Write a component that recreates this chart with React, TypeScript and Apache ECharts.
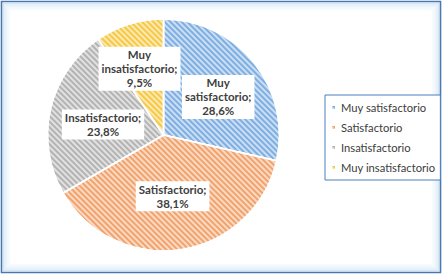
import React, { useEffect, useRef } from "react";
import * as echarts from "echarts";

const categories = ["Muy satisfactorio", "Satisfactorio", "Insatisfactorio", "Muy insatisfactorio"];
const values = [6, 8, 5, 2];
const percentLabels = ["28,6%", "38,1%", "23,8%", "9,5%"];
const colors = ["#7eaee2", "#f2a36c", "#b3b3b3", "#f6c844"];
const labelOffsets = [[7, 0], [0, 1], [-1, 3], [-6, -8]];

export default function App() {
  const ref = useRef<HTMLDivElement>(null);
  useEffect(() => {
    document.body.style.margin = "0";
    const chart = echarts.init(ref.current!, null, { renderer: "svg" });
    const frames: any[] = [];
    const glow = ["#d3e7f6", "#deeef9", "#e9f4fb", "#f2f8fd", "#f8fbfe"];
    glow.forEach((c, i) => {
      const inset = 3.5 + i * 1.5;
      frames.push({
        type: "rect",
        shape: { x: inset, y: inset, width: 442 - 2 * inset, height: 274 - 2 * inset },
        style: { fill: "none", stroke: c, lineWidth: 1.5 },
        silent: true,
        z: -1,
      });
    });
    frames.push({
      type: "rect",
      shape: { x: 1.5, y: 1.5, width: 439, height: 271 },
      style: { fill: "none", stroke: "#4a77ad", lineWidth: 1.6 },
      silent: true,
    });
    chart.setOption({
      animation: false,
      backgroundColor: "#ffffff",
      graphic: frames,
      legend: {
        orient: "vertical",
        left: 325,
        top: 95,
        data: categories,
        icon: "rect",
        itemWidth: 5,
        itemHeight: 5,
        itemGap: 7,
        padding: [6, 5, 6, 5],
        borderColor: "#4a7fbd",
        borderWidth: 1,
        backgroundColor: "#ffffff",
        textStyle: { fontFamily: "Lato", fontSize: 11.2, color: "#3c3c3c", lineHeight: 13 },
      },
      series: [
        {
          type: "pie",
          center: [163.5, 135],
          radius: 116,
          startAngle: 90,
          clockwise: true,
          itemStyle: { borderColor: "#ffffff", borderWidth: 1.5 },
          label: {
            show: true,
            position: "inside",
            fontFamily: "Lato",
            fontWeight: "bold",
            fontSize: 11.5,
            lineHeight: 14,
            color: "#404040",
            backgroundColor: "#ffffff",
            padding: [1, 3],
            align: "center",
          },
          labelLine: { show: false },
          emphasis: { disabled: true },
          data: categories.map((name, i) => {
            const words = name.split(" ");
            const first = words.length > 1 ? words[0] + "\n" + words.slice(1).join(" ") : name;
            return {
              name,
              value: values[i],
              itemStyle: {
                color: colors[i],
                decal: {
                  symbol: "rect",
                  symbolSize: 1,
                  dashArrayX: [1, 0],
                  dashArrayY: [1.5, 2],
                  rotation: Math.PI / 4,
                  color: "rgba(255,255,255,0.6)",
                },
              },
              label: {
                formatter: first + ";\n" + percentLabels[i],
                offset: labelOffsets[i],
              },
            };
          }),
        },
      ],
    });
    return () => chart.dispose();
  }, []);
  return <div ref={ref} style={{ width: 442, height: 274 }} />;
}
